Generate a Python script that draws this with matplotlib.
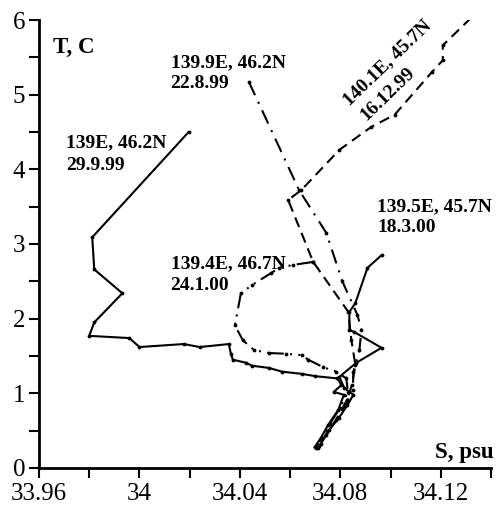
import matplotlib
matplotlib.use("Agg")
import matplotlib.pyplot as plt
from matplotlib.ticker import MultipleLocator, FixedLocator, FixedFormatter

plt.rcParams['font.family'] = ['Liberation Serif', 'DejaVu Serif']

# T-S profiles, salinity (psu) vs temperature (C)
s_139e = [34.0196, 33.9812, 33.982, 33.9932, 33.982, 33.980, 33.996, 34.000, 34.0176,
          34.024, 34.0356, 34.0364, 34.0372, 34.0424, 34.0448, 34.0516, 34.0568, 34.0648,
          34.070, 34.0788, 34.0804, 34.0774, 34.0814, 34.0792, 34.0752, 34.0722, 34.0698]
t_139e = [4.50, 3.09, 2.66, 2.34, 1.95, 1.77, 1.74, 1.62, 1.66,
          1.62, 1.66, 1.53, 1.45, 1.41, 1.37, 1.34, 1.29, 1.26,
          1.23, 1.20, 1.11, 1.02, 0.98, 0.78, 0.58, 0.40, 0.28]

s_1399e = [34.0436, 34.0636, 34.0744, 34.0808, 34.0868, 34.0884, 34.0876, 34.0852,
           34.0850, 34.0820, 34.0782, 34.0742, 34.0712]
t_1399e = [5.17, 3.72, 3.15, 2.50, 2.05, 1.85, 1.58, 1.29,
           1.04, 0.84, 0.64, 0.44, 0.27]

s_1401e = [34.1384, 34.1324, 34.1208, 34.1208, 34.1164, 34.1016, 34.0924, 34.0796,
           34.0644, 34.0592, 34.0692, 34.0832, 34.0844, 34.086, 34.0846, 34.0826,
           34.0788, 34.0748, 34.0716]
t_1401e = [6.08, 6.04, 5.66, 5.46, 5.30, 4.73, 4.57, 4.26,
           3.72, 3.59, 2.76, 2.09, 1.71, 1.38, 1.11, 0.91,
           0.67, 0.48, 0.29]

s_1394e = [34.0692, 34.0612, 34.0556, 34.0524, 34.0448, 34.0404, 34.038, 34.0412,
           34.0456, 34.0516, 34.0584, 34.0648, 34.0672, 34.0732, 34.0784, 34.0824,
           34.0830, 34.0798, 34.0758, 34.0718, 34.0702]
t_1394e = [2.76, 2.72, 2.68, 2.61, 2.45, 2.34, 1.91, 1.71,
           1.58, 1.54, 1.53, 1.51, 1.45, 1.35, 1.29, 1.20,
           1.02, 0.80, 0.59, 0.37, 0.27]

s_1395e = [34.0964, 34.0908, 34.086, 34.0836, 34.0836, 34.0856, 34.0964, 34.0864,
           34.0796, 34.0816, 34.0852, 34.0828, 34.0794, 34.0756, 34.0722]
t_1395e = [2.85, 2.68, 2.21, 2.09, 1.85, 1.82, 1.61, 1.41,
           1.22, 1.07, 0.98, 0.84, 0.67, 0.51, 0.32]

x_ticks = [33.96, 34.00, 34.04, 34.08, 34.12]
x_labels = ['33.96', '34', '34.04', '34.08', '34.12']

fig = plt.figure(figsize=(4.98, 5.09), dpi=100)
ax = fig.add_axes([39 / 498, 41 / 509, 452 / 498, 448 / 509])

kw = dict(color='black', lw=1.5, marker='.', ms=3.5)
ax.plot(s_139e, t_139e, ls='-', **kw)
ax.plot(s_1399e, t_1399e, ls=(0, (7, 3.5, 1, 3.5)), **kw)
ax.plot(s_1401e, t_1401e, ls=(0, (5, 3)), **kw)
ax.plot(s_1394e, t_1394e, ls=(0, (8, 3, 1, 3, 1, 3)), **kw)
ax.plot(s_1395e, t_1395e, ls='-', **kw)

ax.set_xlim(33.96, 34.14)
ax.set_ylim(0, 6)

for side in ['top', 'right']:
    ax.spines[side].set_visible(False)
for side in ['left', 'bottom']:
    ax.spines[side].set_linewidth(2)

ax.xaxis.set_major_locator(FixedLocator(x_ticks))
ax.xaxis.set_major_formatter(FixedFormatter(x_labels))
ax.xaxis.set_minor_locator(MultipleLocator(0.02))
ax.yaxis.set_major_locator(MultipleLocator(1))
ax.yaxis.set_minor_locator(MultipleLocator(0.5))
ax.tick_params(which='both', direction='out', length=7, width=1.5)
ax.tick_params(axis='x', which='major', labelsize=18, pad=4)
ax.tick_params(axis='y', which='major', labelsize=18, pad=3)


def px(x, y):
    # pixel position inside the figure -> data coords
    return 33.96 + (x - 39) / 2500, (468 - y) / 74.67


lab = dict(fontsize=14, fontweight='bold', va='baseline', ha='left')
ax.text(*px(53, 53), 'T, C', fontsize=16.5, fontweight='bold', va='baseline')
ax.text(*px(433, 458), 'S, psu', fontsize=16.5, fontweight='bold', va='baseline', clip_on=False)

ax.text(*px(170, 67), '139.9E, 46.2N', **lab)
ax.text(*px(170, 88), '22.8.99', **lab)
ax.text(*px(66, 147), '139E, 46.2N', **lab)
ax.text(*px(66, 170), '29.9.99', **lab)
ax.text(*px(376, 211), '139.5E, 45.7N', clip_on=False, **lab)
ax.text(*px(376, 232), '18.3.00', **lab)
ax.text(*px(170, 268), '139.4E, 46.7N', **lab)
ax.text(*px(170, 290), '24.1.00', **lab)

rot = dict(fontsize=14, fontweight='bold', rotation=44, rotation_mode='anchor',
           ha='center', va='center')
ax.text(*px(386, 63), '140.1E, 45.7N', **rot)
ax.text(*px(386, 94), '16.12.99', **rot)

fig.savefig('out.png', dpi=100)
